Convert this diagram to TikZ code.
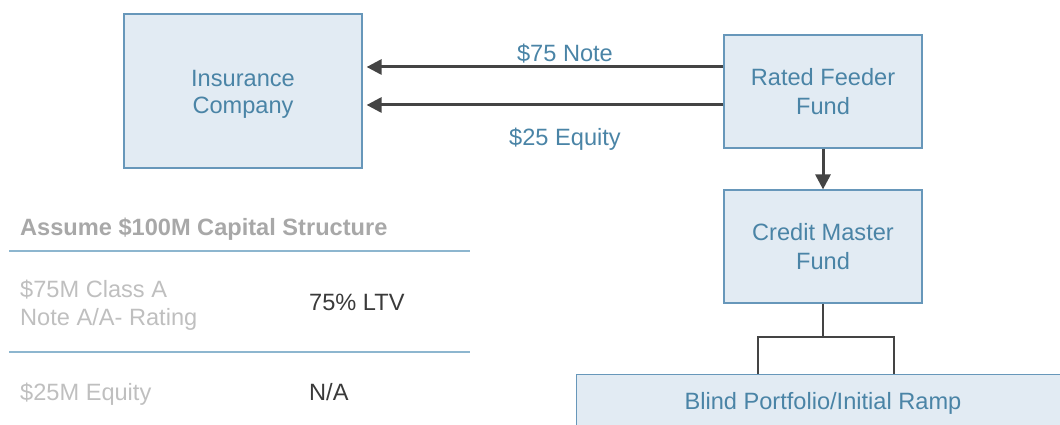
\documentclass[tikz,border=0pt]{standalone}
\usepackage{fontspec}
\setmainfont{Liberation Sans}
\usetikzlibrary{arrows.meta}
\definecolor{boxfill}{HTML}{E2EBF3}
\definecolor{boxline}{HTML}{6797BA}
\definecolor{boxtext}{HTML}{4A84A6}
\definecolor{rulecol}{HTML}{8DB6CF}
\definecolor{dimtext}{HTML}{BFBFBF}
\definecolor{headtext}{HTML}{A8A8A8}
\definecolor{darktext}{HTML}{3A3A3A}
\definecolor{flow}{HTML}{444444}
\tikzset{
  fundbox/.style={draw=boxline, line width=1.2pt, fill=boxfill, text=boxtext,
    align=center, inner sep=0pt, font=\fontsize{23.6}{29}\selectfont},
  flowarrow/.style={draw=flow, line width=3pt, -{Triangle[length=15pt,width=15pt]}},
  treeline/.style={draw=flow, line width=1.6pt},
  tablerule/.style={draw=rulecol, line width=2pt},
  cell/.style={inner sep=0pt, anchor=base west, align=left, font=\fontsize{23.6}{29}\selectfont},
  flowlabel/.style={inner sep=0pt, anchor=base, text=boxtext, font=\fontsize{23.6}{29}\selectfont}
}
\begin{document}
\begin{tikzpicture}[x=1pt,y=-1pt]
\useasboundingbox (0,0) rectangle (1060,425);
\begin{scope}
\clip (0,0) rectangle (1060,425);

% boxes
\node[fundbox, minimum width=238pt, minimum height=154pt] (ins) at (243,91) {};
\node[inner sep=0pt, align=center, text=boxtext, font=\fontsize{23.6}{28}\selectfont, anchor=base] (instxt) at (243,114) {Insurance\\Company};
\node[fundbox, minimum width=198pt, minimum height=113pt] (feeder) at (823,91.5) {Rated Feeder\\Fund};
\node[fundbox, minimum width=198pt, minimum height=113pt] (master) at (823,246.5) {Credit Master\\Fund};
\node[fundbox, minimum width=496pt, minimum height=90pt, anchor=north west] (blind) at (576,374) {};
\node[inner sep=0pt, text=boxtext, font=\fontsize{23.6}{29}\selectfont] (blindtxt) at (823,403) {Blind Portfolio/Initial Ramp};

% flows from the feeder fund to the insurer
\coordinate (n1) at (feeder.west |- 0,67);
\coordinate (n2) at (feeder.west |- 0,105);
\draw[flowarrow, shorten >=4pt] (n1) -- (ins.east |- n1);
\draw[flowarrow, shorten >=4pt] (n2) -- (ins.east |- n2);
\node[flowlabel] (lnote) at (565,62) {\$75 Note};
\node[flowlabel] (leq) at (565,146) {\$25 Equity};

\draw[flowarrow] (feeder.south) -- (master.north);

% split below the master fund
\coordinate (split) at (823,337);
\coordinate (sl) at (758,337);
\coordinate (sr) at (894,337);
\draw[treeline] (master.south) -- (split);
\draw[treeline] (sl |- blind.north) -- (sl) -- (sr) -- (sr |- blind.north);
\end{scope}

% capital structure table
\node[cell, text=headtext, font=\fontsize{23.6}{29}\selectfont\bfseries] (head) at (20,235) {Assume \$100M Capital Structure};
\draw[tablerule] (9,251) -- (470,251);
\node[cell, text=dimtext, font=\fontsize{23.6}{28}\selectfont] (r1a) at (20,325) {\$75M Class A\\Note A/A- Rating};
\node[cell, text=darktext] (r1b) at (309,310) {75\% LTV};
\draw[tablerule] (9,352) -- (470,352);
\node[cell, text=dimtext] (r2a) at (20,400) {\$25M Equity};
\node[cell, text=darktext] (r2b) at (309,400) {N/A};
\end{tikzpicture}
\end{document}
